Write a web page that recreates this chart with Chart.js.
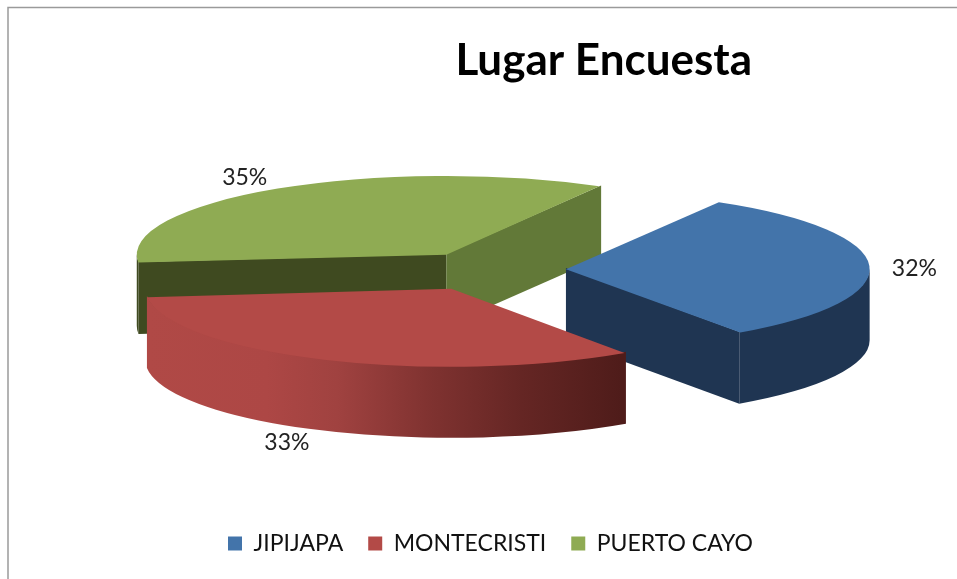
<!DOCTYPE html>
<html><head><meta charset="utf-8">
<style>html,body{margin:0;padding:0;background:#fff}canvas{display:block}</style>
<script src="https://cdn.jsdelivr.net/npm/chart.js@4"></script>
</head><body><canvas id="c" width="957" height="579"></canvas>
<script>
const categories = ['JIPIJAPA', 'MONTECRISTI', 'PUERTO CAYO'];
const values = [32, 33, 35];
const topColors = ['#4374aa', '#b34a47', '#8fab53'];
const titleText = 'Lugar Encuesta';

const K = 0.255, DEPTH = 71, CX = 485, CY = 270, LEGEND_PAD = 25;
const explode = [324, 324, 284];
const drawOrder = [2, 0, 1];
const faceStart = [null, null, '#3f4a20'];
const faceEnd = ['#1f3552', null, '#627938'];
const labelNudge = [[45, 3], [-37, 83], [-33, -11]];

const pie3d = {
  id: 'pie3d',
  beforeDatasetsDraw(chart) {
    const ctx = chart.ctx, meta = chart.getDatasetMeta(0), D = DEPTH / K;
    const total = values.reduce((a, b) => a + b, 0);
    const o = meta.data[0].x, p = meta.data[0].y;
    const lap = 4; // walls tuck slightly under the top surface to avoid seams
    ctx.save();
    ctx.translate(CX, CY); ctx.scale(1, K); ctx.translate(-o, -p);
    drawOrder.forEach(i => {
      const arc = meta.data[i];
      const a0 = arc.startAngle, a1 = arc.endAngle, mid = (a0 + a1) / 2;
      const off = arc.options.offset / 4;
      const r = arc.outerRadius + off * (1 - Math.sin(Math.min(Math.PI, a1 - a0)));
      const cx = arc.x + Math.cos(mid) * off, cy = arc.y + Math.sin(mid) * off;
      const face = (a, col) => {
        if (!col) return;
        const px = cx + Math.cos(a) * r, py = cy + Math.sin(a) * r;
        ctx.beginPath(); ctx.moveTo(cx, cy - lap); ctx.lineTo(px, py - lap);
        ctx.lineTo(px, py + D); ctx.lineTo(cx, cy + D); ctx.closePath();
        ctx.fillStyle = col; ctx.fill();
      };
      face(a0, faceStart[i]);
      face(a1, faceEnd[i]);
      const w0 = Math.max(a0, 0), w1 = Math.min(a1, Math.PI);
      if (w1 > w0) {
        let fill = faceEnd[i] || '#1f3552';
        if (i === 2) fill = '#3f4a20';
        if (i === 1) {
          const sx = v => v - CX + o;
          const g = ctx.createLinearGradient(sx(148), 0, sx(621), 0);
          g.addColorStop(0, '#b04946'); g.addColorStop(0.25, '#ad4745');
          g.addColorStop(0.4, '#a04240'); g.addColorStop(0.6, '#7f3230');
          g.addColorStop(0.79, '#652624'); g.addColorStop(1, '#4f1c1a');
          fill = g;
        }
        ctx.beginPath();
        ctx.arc(cx, cy - lap, r, w0, w1);
        ctx.arc(cx, cy + D, r, w1, w0, true);
        ctx.closePath(); ctx.fillStyle = fill; ctx.fill();
      }
      arc.draw(ctx);
    });
    ctx.restore();
    // percent labels
    ctx.save();
    ctx.font = '23px Lato'; ctx.fillStyle = '#222';
    ctx.textAlign = 'center'; ctx.textBaseline = 'middle';
    values.forEach((v, i) => {
      const arc = meta.data[i];
      const a0 = arc.startAngle, a1 = arc.endAngle, mid = (a0 + a1) / 2;
      const off = arc.options.offset / 4;
      const r = arc.outerRadius + off * (1 - Math.sin(Math.min(Math.PI, a1 - a0)));
      const x = CX + Math.cos(mid) * (off + r);
      const y = CY + Math.sin(mid) * (off + r) * K;
      ctx.fillText(Math.round(v / total * 100) + '%', x + labelNudge[i][0], y + labelNudge[i][1]);
    });
    ctx.restore();
    return false;
  },
  beforeDraw(chart) {
    const ctx = chart.ctx;
    ctx.save();
    ctx.fillStyle = '#fff'; ctx.fillRect(0, 0, 957, 579);
    ctx.strokeStyle = '#9a9a9a'; ctx.lineWidth = 1.5;
    ctx.beginPath(); ctx.moveTo(8, 579); ctx.lineTo(8, 7.5); ctx.lineTo(957, 7.5); ctx.stroke();
    ctx.restore();
    // the legend's row width includes a trailing gap: slide it so the text ends under the title's edge
    if (!chart.$legendShifted) {
      chart.legend.left += LEGEND_PAD + 1; chart.legend.right += LEGEND_PAD + 1;
      chart.$legendShifted = true;
    }
  }
};

new Chart(document.getElementById('c'), {
  type: 'pie',
  data: {
    labels: categories,
    datasets: [{ data: values, backgroundColor: topColors, borderWidth: 0, offset: explode, radius: 296 }]
  },
  plugins: [pie3d],
  options: {
    responsive: false, animation: false, rotation: 30,
    events: [],
    layout: { padding: { right: 205, bottom: 14 } },
    plugins: {
      tooltip: { enabled: false },
      title: {
        display: true, text: titleText, align: 'end', color: '#000',
        font: { family: 'Lato', size: 44, weight: 'bold' },
        padding: { top: 34, bottom: 10 }
      },
      legend: {
        position: 'bottom', align: 'end',
        labels: { color: '#111', boxWidth: 14, boxHeight: 14, padding: LEGEND_PAD,
          font: { family: 'Lato', size: 23 } }
      }
    }
  }
});
</script></body></html>
